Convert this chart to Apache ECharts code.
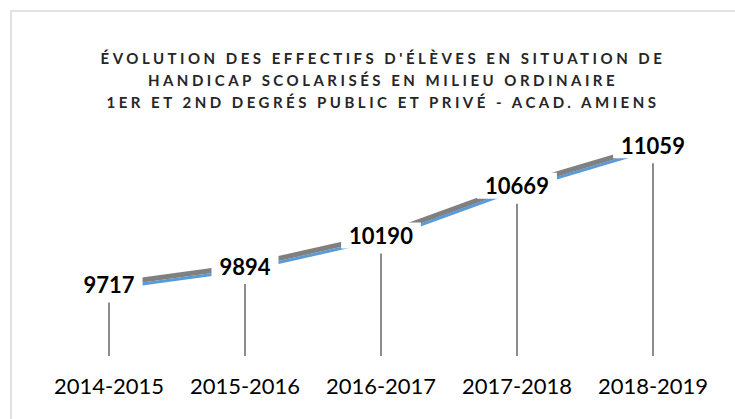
<!DOCTYPE html>
<html>
<head>
<meta charset="utf-8">
<script src="https://cdn.jsdelivr.net/npm/echarts@6/dist/echarts.min.js"></script>
<style>
  html, body { margin: 0; padding: 0; background: #fff; }
  #main { width: 735px; height: 419px; }
</style>
</head>
<body>
<div id="main"></div>
<script>
// données
var annees = ['2014-2015', '2015-2016', '2016-2017', '2017-2018', '2018-2019'];
var effectifs = [9717, 9894, 10190, 10669, 11059];
var titreLignes = [
  "ÉVOLUTION DES EFFECTIFS D'ÉLÈVES EN SITUATION DE",
  'HANDICAP SCOLARISÉS EN MILIEU ORDINAIRE',
  '1ER ET 2ND DEGRÉS PUBLIC ET PRIVÉ - ACAD. AMIENS'
];

var chart = echarts.init(document.getElementById('main'), null, { renderer: 'svg' });

// axe de valeurs identique pour les 3 grilles (effet 3D : ruban décalé vers le haut)
function axeY(i) {
  return { type: 'value', gridIndex: i, min: 9200, max: 11400, show: false, splitLine: { show: false } };
}
function axeX(i, visible) {
  return {
    type: 'category', gridIndex: i, data: annees, boundaryGap: true,
    show: visible,
    axisLine: { show: false },
    axisTick: { show: false },
    axisLabel: { interval: 0, fontFamily: 'Lato', fontSize: 22, color: '#000', margin: 18 }
  };
}

var option = {
  animation: false,
  title: {
    text: titreLignes.join('\n'),
    left: 383,
    top: 47,
    padding: 0,
    textAlign: 'center',
    textStyle: { fontFamily: 'Lato', fontSize: 15, fontWeight: 'bold', color: '#262626', lineHeight: 22 }
  },
  graphic: [{
    type: 'rect', silent: true, z: -10,
    shape: { x: 11, y: 11, width: 780, height: 480 },
    style: { fill: 'none', stroke: '#d9d9d9', lineWidth: 1.5 }
  }],
  grid: [
    { left: 41, right: 14, top: 128, bottom: 63 },
    { left: 41, right: 14, top: 110, bottom: 81 },
    { left: 41, right: 14, top: 114, bottom: 77 }
  ],
  xAxis: [axeX(0, true), axeX(1, false), axeX(2, false)],
  yAxis: [axeY(0), axeY(1), axeY(2)],
  series: [
    {
      // face supérieure du ruban
      type: 'line', xAxisIndex: 1, yAxisIndex: 1, data: effectifs,
      symbol: 'none', z: 1,
      lineStyle: { color: '#808080', width: 5 }
    },
    {
      type: 'line', xAxisIndex: 2, yAxisIndex: 2, data: effectifs,
      symbol: 'none', z: 2,
      lineStyle: { color: '#5b9bd5', width: 3 }
    },
    {
      // lignes de projection + étiquettes
      type: 'bar', xAxisIndex: 0, yAxisIndex: 0, data: effectifs,
      barWidth: 2, z: 5,
      itemStyle: { color: '#8c8c8c' },
      label: {
        show: true, position: 'top', distance: 5,
        fontFamily: 'Lato', fontSize: 22, fontWeight: 'bold', color: '#000',
        backgroundColor: '#fff', padding: [0, 8], lineHeight: 26
      }
    }
  ]
};

function espacerTitre() {
  var textes = document.querySelectorAll('#main svg text');
  textes.forEach(function (t) {
    if (titreLignes.indexOf(t.textContent) >= 0) {
      t.style.letterSpacing = '3.5px';
    }
  });
}

chart.on('finished', espacerTitre);
chart.setOption(option);
setTimeout(espacerTitre, 30);
</script>
</body>
</html>
